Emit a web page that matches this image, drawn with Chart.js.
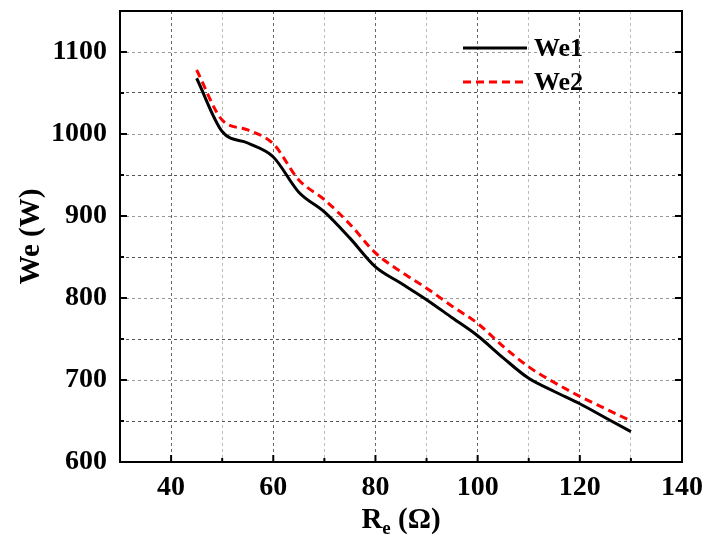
<!DOCTYPE html>
<html>
<head>
<meta charset="utf-8">
<script src="https://cdn.jsdelivr.net/npm/chart.js@4/dist/chart.umd.min.js"></script>
<style>
  html, body { margin: 0; padding: 0; background: #fff; }
  #wrap { width: 705px; height: 537px; }
</style>
</head>
<body>
<div id="wrap"><canvas id="myChart" width="705" height="537"></canvas></div>
<script>
// resistance values (ohm)
var re = [45, 50, 55, 60, 65, 70, 75, 80, 85, 90, 95, 100, 105, 110, 115, 120, 125, 130];
var we1 = [1068, 1003, 989, 972, 929, 905, 873, 838, 818, 798, 776, 754, 727, 702, 686, 671, 654, 637];
var we2 = [1078, 1017, 1005, 988, 944, 920, 890, 855, 832, 812, 790, 769, 741, 716, 697, 680, 665, 650];
var xTicks = [40, 60, 80, 100, 120, 140];
var yTicks = [600, 700, 800, 900, 1000, 1100];

var FONT = '"Liberation Serif", "Times New Roman", serif';

// frame, inward ticks, legend and x title
var decor = {
    id: 'decor',
    afterDraw: function(chart) {
        var c = chart.ctx, a = chart.chartArea;
        var x = chart.scales.x, y = chart.scales.y;
        c.save();
        c.strokeStyle = '#000';
        c.lineWidth = 2;
        c.strokeRect(a.left, a.top, a.right - a.left, a.bottom - a.top);

        for (var v = 40; v <= 130; v += 10) {
            var px = x.getPixelForValue(v);
            var len = v % 20 === 0 ? 7 : 4;
            c.beginPath();
            c.moveTo(px, a.bottom);
            c.lineTo(px, a.bottom - len);
            c.stroke();
        }
        for (var w = 650; w <= 1100; w += 50) {
            var py = y.getPixelForValue(w);
            var l2 = w % 100 === 0 ? 7 : 4;
            c.beginPath();
            c.moveTo(a.left, py); c.lineTo(a.left + l2, py);
            c.moveTo(a.right, py); c.lineTo(a.right - l2, py);
            c.stroke();
        }

        // legend
        var ds = chart.data.datasets;
        c.font = 'bold 26px ' + FONT;
        c.textBaseline = 'middle';
        c.textAlign = 'left';
        for (var i = 0; i < ds.length; i++) {
            var ly = 48 + i * 34;
            c.strokeStyle = ds[i].borderColor;
            c.lineWidth = 3;
            c.setLineDash(ds[i].borderDash || []);
            c.beginPath();
            c.moveTo(463, ly);
            c.lineTo(527, ly);
            c.stroke();
            c.setLineDash([]);
            c.fillStyle = '#000';
            c.fillText(ds[i].label, 534, ly + 1);
        }

        // x title with subscript
        var cx = (a.left + a.right) / 2, ty = 528;
        c.textBaseline = 'alphabetic';
        c.font = 'bold 29px ' + FONT;
        var wR = c.measureText('R').width;
        var wRest = c.measureText(' (\u03A9)').width;
        c.font = 'bold 19px ' + FONT;
        var wE = c.measureText('e').width;
        var sx = cx - (wR + wE + wRest) / 2;
        c.font = 'bold 29px ' + FONT;
        c.fillText('R', sx, ty);
        c.fillText(' (\u03A9)', sx + wR + wE, ty);
        c.font = 'bold 19px ' + FONT;
        c.fillText('e', sx + wR, ty + 6);
        c.restore();
    }
};

var ctx = document.getElementById('myChart').getContext('2d');
var myChart = new Chart(ctx, {
    type: 'line',
    data: {
        datasets: [{
                label: 'We1',
                data: re.map((r, i) => ({ x: r, y: we1[i] })),
                borderColor: '#000000',
                borderWidth: 3,
                pointRadius: 0,
                cubicInterpolationMode: 'monotone'
            },
            {
                label: 'We2',
                data: re.map((r, i) => ({ x: r, y: we2[i] })),
                borderColor: '#ff0000',
                borderWidth: 3,
                borderDash: [8, 5],
                pointRadius: 0,
                cubicInterpolationMode: 'monotone'
            }
        ]
    },
    options: {
        responsive: false,
        animation: false,
        layout: { padding: { left: 0, top: 11, right: 23, bottom: 0 } },
        plugins: { legend: { display: false }, tooltip: { enabled: false } },
        scales: {
            x: {
                type: 'linear',
                min: 30,
                max: 140,
                afterFit: function(s) {
                    s.height = 75;
                    s.paddingLeft = 0;
                    s.paddingRight = 0;
                },
                afterBuildTicks: function(s) {
                    var t = [];
                    for (var v = 30; v <= 140; v += 10) t.push({ value: v });
                    s.ticks = t;
                },
                grid: {
                    drawTicks: false,
                    lineWidth: 1,
                    color: function(c) { return c.tick.value % 20 === 0 ? '#666' : '#bbb'; }
                },
                border: { display: false, dash: [3, 3] },
                ticks: {
                    padding: 9,
                    color: '#000',
                    maxRotation: 0,
                    font: { family: FONT, size: 28, weight: 'bold' },
                    callback: function(v) { return xTicks.indexOf(v) >= 0 ? v : ''; }
                }
            },
            y: {
                min: 600,
                max: 1150,
                afterFit: function(s) {
                    s.width = 120;
                    s.paddingTop = 0;
                    s.paddingBottom = 0;
                },
                afterBuildTicks: function(s) {
                    var t = [];
                    for (var v = 600; v <= 1150; v += 50) t.push({ value: v });
                    s.ticks = t;
                },
                grid: {
                    drawTicks: false,
                    lineWidth: 1,
                    color: function(c) { return c.tick.value % 100 === 0 ? '#999' : '#555'; }
                },
                border: { display: false, dash: [3, 3] },
                title: {
                    display: true,
                    text: 'We (W)',
                    color: '#000',
                    padding: { top: 14, bottom: 0 },
                    font: { family: FONT, size: 29, weight: 'bold' }
                },
                ticks: {
                    padding: 13,
                    color: '#000',
                    font: { family: FONT, size: 28, weight: 'bold' },
                    callback: function(v) { return yTicks.indexOf(v) >= 0 ? v : ''; }
                }
            }
        }
    },
    plugins: [decor]
});
</script>
</body>
</html>
